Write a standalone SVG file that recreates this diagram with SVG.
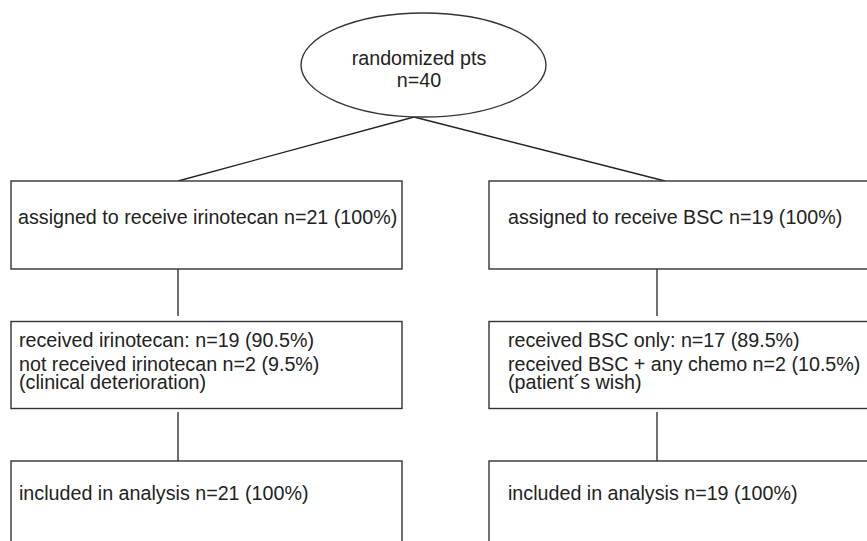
<svg xmlns="http://www.w3.org/2000/svg" width="867" height="541" viewBox="0 0 867 541">
<style>
  .box { fill: #ffffff; stroke: #333333; stroke-width: 1.4; }
  .lbl { font-family: "Liberation Sans", Arial, Helvetica, sans-serif; font-size: 19.7px; fill: #222222; }
  .mid { text-anchor: middle; }
  .conn line { stroke: #222222; stroke-width: 1.3; }
</style>
<rect x="0" y="0" width="867" height="541" fill="#ffffff"/>
<g id="connectors" class="conn">
  <line x1="414" y1="117" x2="178" y2="181"/>
  <line x1="414" y1="117" x2="665" y2="181"/>
  <line x1="178" y1="269" x2="178" y2="316"/>
  <line x1="657" y1="269" x2="657" y2="316"/>
  <line x1="178" y1="412" x2="178" y2="461"/>
  <line x1="657" y1="412" x2="657" y2="461"/>
</g>
<g id="randomized">
  <ellipse cx="423.5" cy="65" rx="122.5" ry="52" class="box"/>
  <text x="419" y="65" class="lbl mid">randomized pts</text>
  <text x="419" y="87" class="lbl mid">n=40</text>
</g>
<g id="assigned-irinotecan">
  <rect x="11" y="181" width="391" height="88" class="box"/>
  <text x="18" y="224" class="lbl">assigned to receive irinotecan n=21 (100%)</text>
</g>
<g id="assigned-bsc">
  <rect x="489" y="181" width="420" height="88" class="box"/>
  <text x="508" y="224" class="lbl">assigned to receive BSC n=19 (100%)</text>
</g>
<g id="received-irinotecan">
  <rect x="11" y="321.5" width="391" height="87" class="box"/>
  <text x="19" y="347" class="lbl">received irinotecan: n=19 (90.5%)</text>
  <text x="19" y="370.5" class="lbl">not received irinotecan n=2 (9.5%)</text>
  <text x="19" y="388.5" class="lbl">(clinical deterioration)</text>
</g>
<g id="received-bsc">
  <rect x="489" y="321.5" width="420" height="87" class="box"/>
  <text x="508" y="347" class="lbl">received BSC only: n=17 (89.5%)</text>
  <text x="508" y="370.5" class="lbl">received BSC + any chemo n=2 (10.5%)</text>
  <text x="508" y="388.5" class="lbl">(patient´s wish)</text>
</g>
<g id="analysis-irinotecan">
  <rect x="11" y="461" width="391" height="100" class="box"/>
  <text x="19" y="500" class="lbl">included in analysis n=21 (100%)</text>
</g>
<g id="analysis-bsc">
  <rect x="489" y="461" width="420" height="100" class="box"/>
  <text x="508" y="500" class="lbl">included in analysis n=19 (100%)</text>
</g>
</svg>
